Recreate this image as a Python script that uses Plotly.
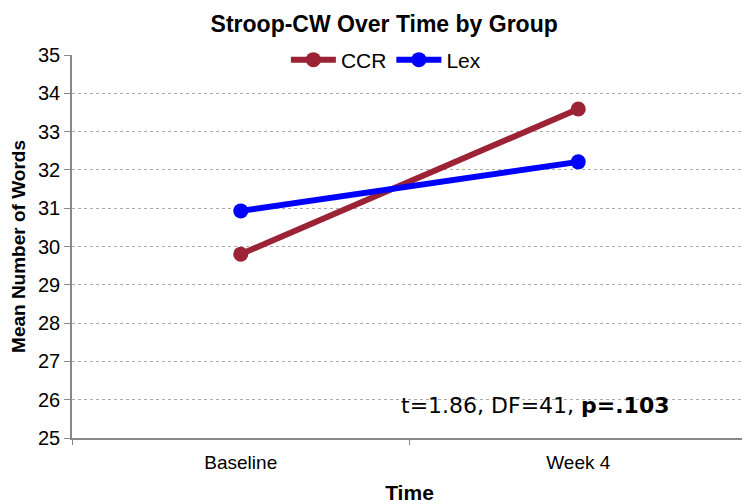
import plotly.graph_objects as go

categories = ["Baseline", "Week 4"]
ccr = [29.80, 33.59]
lex = [30.93, 32.21]
y_ticks = list(range(25, 36))

fig = go.Figure()
fig.add_trace(go.Scatter(x=categories, y=ccr, name="CCR", mode="lines+markers",
                         line=dict(color="#9B2335", width=6), marker=dict(size=15, color="#9B2335")))
fig.add_trace(go.Scatter(x=categories, y=lex, name="Lex", mode="lines+markers",
                         line=dict(color="#0000FF", width=6), marker=dict(size=15, color="#0000FF")))

# page body has an 8px margin, so figure is 742x496 offset by (8, 8)
fig.update_layout(
    width=742, height=496,
    margin=dict(l=64, r=3, t=47, b=66),
    paper_bgcolor="white", plot_bgcolor="white",
    font=dict(family="Liberation Sans, Arial", color="black"),
    title=dict(text="<b>Stroop-CW Over Time by Group</b>", x=0.507, xanchor="center",
               y=0.985, yanchor="top", pad=dict(t=0, b=0), font=dict(size=23)),
    legend=dict(orientation="h", x=0.465, xanchor="center", y=0.987, yanchor="middle",
                font=dict(size=21), bgcolor="rgba(255,255,255,1)", itemwidth=45,
                tracegroupgap=0),
    xaxis=dict(type="category", range=[-0.5, 1.5], tickson="boundaries",
               ticks="outside", ticklen=5, tickcolor="#888", showline=True,
               linecolor="#888", linewidth=1.5, showgrid=False, automargin=False,
               tickfont=dict(size=19), ticklabelstandoff=6,
               title=dict(text="<b>Time</b>", font=dict(size=21), standoff=14)),
    yaxis=dict(range=[25, 35], tickvals=y_ticks, ticks="outside", ticklen=6,
               tickcolor="#888", showline=True, linecolor="#888", linewidth=1.5,
               showgrid=True, gridcolor="#aaa", griddash="dot", gridwidth=1,
               tickfont=dict(size=20), zeroline=False, automargin=False,
               ticksuffix="\u00a0\u00a0",
               title=dict(text="<b>Mean Number of Words</b>", font=dict(size=19), standoff=8)),
    annotations=[dict(text="t=1.86, DF=41, <b>p=.103</b>", x=0.686, xref="paper",
                      y=25.85, yref="y", showarrow=False, xanchor="center",
                      font=dict(size=22, family="DejaVu Sans, Verdana"))],
)

fig.write_html("out.html")
